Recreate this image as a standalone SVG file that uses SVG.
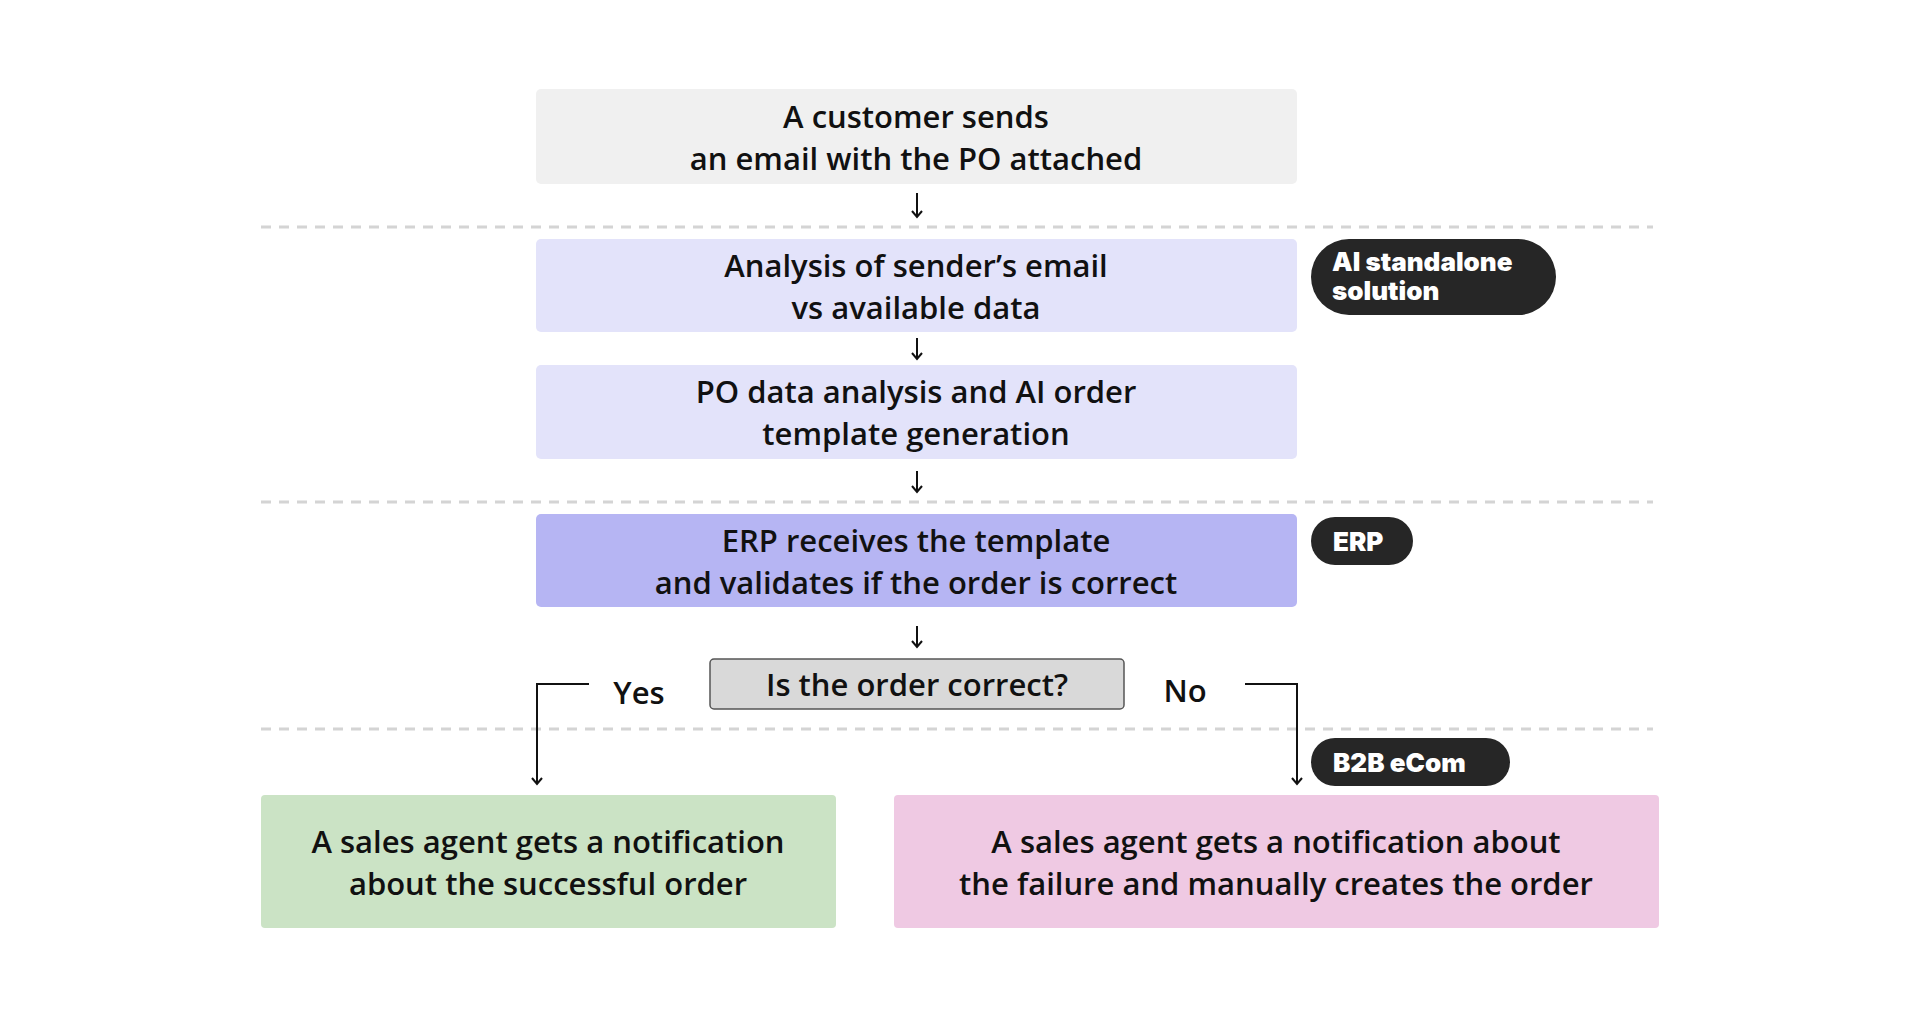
<svg xmlns="http://www.w3.org/2000/svg" width="1920" height="1019" viewBox="0 0 1920 1019">
<style>
.t{font-family:"Open Sans","Noto Sans",sans-serif;font-size:31px;font-weight:600;fill:#111;text-anchor:middle}
.b{font-family:Inter,Lato,sans-serif;font-size:26px;font-weight:900;fill:#fff}
.dash{stroke:#d4d4d4;stroke-width:3;stroke-dasharray:10 8;fill:none}
.c{stroke:#111;stroke-width:2;fill:none}
</style>
<defs><marker id="a" markerWidth="12" markerHeight="12" refX="10" refY="6" orient="auto" markerUnits="userSpaceOnUse"><path d="M4,1 L10,6 L4,11" fill="none" stroke="#111" stroke-width="2"/></marker></defs>
<rect width="1920" height="1019" fill="#fff"/>
<g id="dividers">
<line class="dash" x1="261" y1="227" x2="1653" y2="227"/>
<line class="dash" x1="261" y1="502" x2="1653" y2="502"/>
<line class="dash" x1="261" y1="729" x2="1653" y2="729"/>
</g>
<g id="n1"><rect x="536" y="89" width="761" height="95" rx="5" fill="#f0f0f0"/><text class="t" x="916" y="128">A customer sends</text><text class="t" x="916" y="170">an email with the PO attached</text></g>
<g id="n2"><rect x="536" y="239" width="761" height="93" rx="5" fill="#e3e3fa"/><text class="t" x="916" y="277">Analysis of sender’s email</text><text class="t" x="916" y="319">vs available data</text></g>
<g id="n3"><rect x="536" y="365" width="761" height="94" rx="5" fill="#e3e3fa"/><text class="t" x="916" y="403">PO data analysis and AI order</text><text class="t" x="916" y="445">template generation</text></g>
<g id="n4"><rect x="536" y="514" width="761" height="93" rx="5" fill="#b6b5f3"/><text class="t" x="916" y="552">ERP receives the template</text><text class="t" x="916" y="594">and validates if the order is correct</text></g>
<g id="n5"><rect x="710" y="659" width="414" height="50" rx="4" fill="#d9d9d9" stroke="#555" stroke-width="1.5"/><text class="t" x="917" y="696">Is the order correct?</text></g>
<g id="n6"><rect x="261" y="795" width="575" height="133" rx="4" fill="#cbe3c5"/><text class="t" x="548" y="853">A sales agent gets a notification</text><text class="t" x="548" y="895">about the successful order</text></g>
<g id="n7"><rect x="894" y="795" width="765" height="133" rx="4" fill="#efc9e3"/><text class="t" x="1276" y="853">A sales agent gets a notification about</text><text class="t" x="1276" y="895">the failure and manually creates the order</text></g>
<g id="badge-ai"><rect x="1311" y="239" width="245" height="76" rx="38" fill="#262626"/><text class="b" x="1332" y="271">AI standalone</text><text class="b" x="1332" y="300">solution</text></g>
<g id="badge-erp"><rect x="1311" y="517" width="102" height="48" rx="24" fill="#262626"/><text class="b" x="1333" y="551">ERP</text></g>
<g id="badge-b2b"><rect x="1311" y="738" width="199" height="48" rx="24" fill="#262626"/><text class="b" x="1333" y="772">B2B eCom</text></g>
<g id="connectors">
<line class="c" x1="917" y1="193" x2="917" y2="217" marker-end="url(#a)"/>
<line class="c" x1="917" y1="338" x2="917" y2="359" marker-end="url(#a)"/>
<line class="c" x1="917" y1="471" x2="917" y2="492" marker-end="url(#a)"/>
<line class="c" x1="917" y1="626" x2="917" y2="647" marker-end="url(#a)"/>
<polyline class="c" points="589,684 537,684 537,784" marker-end="url(#a)"/>
<polyline class="c" points="1245,684 1297,684 1297,784" marker-end="url(#a)"/>
<text class="t" x="639" y="704">Yes</text>
<text class="t" x="1185" y="702">No</text>
</g>
</svg>
